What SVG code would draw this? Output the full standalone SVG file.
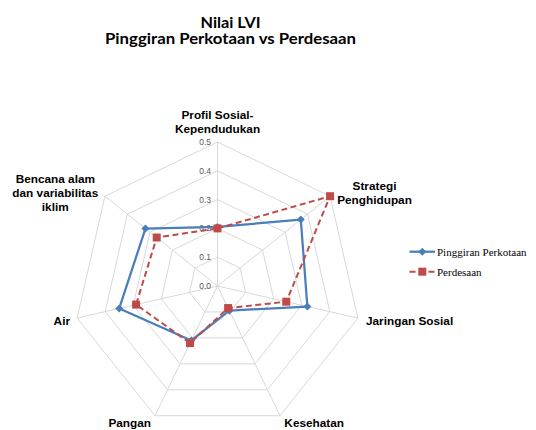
<svg xmlns="http://www.w3.org/2000/svg" width="536" height="430" viewBox="0 0 536 430">
<style>
.title{font-family:Lato,"Liberation Sans",sans-serif;font-weight:bold;font-size:14.5px;fill:#000;text-anchor:middle}
.lbl{font-family:"Liberation Sans",Arial,sans-serif;font-weight:bold;font-size:11.8px;fill:#000}
.tick{font-family:"Liberation Sans",Arial,sans-serif;font-size:8.5px;fill:#595959;text-anchor:end}
.leg{font-family:"Liberation Serif","Times New Roman",serif;font-size:11px;fill:#000}
.grid{fill:none;stroke:#d4d4d4;stroke-width:0.9}
.blue{fill:none;stroke:#4a7ebb;stroke-width:2.25;stroke-linejoin:round}
.red{fill:none;stroke:#be4b48;stroke-width:2;stroke-dasharray:6,3.5}
.dia{fill:#4a7ebb}
.sq{fill:#be4b48}
</style>
<defs>
<polygon id="d" points="0,-4 4,0 0,4 -4,0"/>
<rect id="s" x="-4" y="-4" width="8" height="8"/>
</defs>
<rect width="536" height="430" fill="#fff"/>
<g id="title">
<text class="title" x="230.5" y="27.5" textLength="60" lengthAdjust="spacingAndGlyphs">Nilai LVI</text>
<text class="title" x="230.5" y="44" textLength="251" lengthAdjust="spacingAndGlyphs">Pinggiran Perkotaan vs Perdesaan</text>
</g>
<g id="grid">
<polygon class="grid" points="217.5,257.2 240.02,268.04 245.58,292.41 230,311.95 205,311.95 189.42,292.41 194.98,268.04"/>
<polygon class="grid" points="217.5,228.4 262.53,250.09 273.66,298.82 242.49,337.9 192.51,337.9 161.34,298.82 172.47,250.09"/>
<polygon class="grid" points="217.5,199.6 285.05,232.13 301.73,305.23 254.99,363.84 180.01,363.84 133.27,305.23 149.95,232.13"/>
<polygon class="grid" points="217.5,170.8 307.57,214.17 329.81,311.63 267.48,389.79 167.52,389.79 105.19,311.63 127.43,214.17"/>
<polygon class="grid" points="217.5,142 330.08,196.22 357.89,318.04 279.98,415.74 155.02,415.74 77.11,318.04 104.92,196.22"/>
<path class="grid" d="M217.5,286V142M217.5,286L330.08,196.22M217.5,286L357.89,318.04M217.5,286L279.98,415.74M217.5,286L155.02,415.74M217.5,286L77.11,318.04M217.5,286L104.92,196.22"/>
</g>
<g id="ticks">
<text class="tick" x="211" y="289">0.0</text>
<text class="tick" x="211" y="260.2">0.1</text>
<text class="tick" x="211" y="231.4">0.2</text>
<text class="tick" x="211" y="202.6">0.3</text>
<text class="tick" x="211" y="173.8">0.4</text>
<text class="tick" x="211" y="145">0.5</text>
</g>
<g id="axis-labels">
<g id="n-profil"><text class="lbl" text-anchor="middle" x="217.5" y="119">Profil Sosial-</text><text class="lbl" text-anchor="middle" x="217.5" y="133">Kependudukan</text></g>
<g id="n-strategi"><text class="lbl" text-anchor="middle" x="374.5" y="190">Strategi</text><text class="lbl" text-anchor="middle" x="374.5" y="203.5">Penghidupan</text></g>
<g id="n-jaringan"><text class="lbl" x="366" y="324.5">Jaringan Sosial</text></g>
<g id="n-kesehatan"><text class="lbl" text-anchor="middle" x="314.2" y="426.5">Kesehatan</text></g>
<g id="n-pangan"><text class="lbl" text-anchor="middle" x="129.7" y="426.5">Pangan</text></g>
<g id="n-air"><text class="lbl" text-anchor="end" x="70" y="324.5">Air</text></g>
<g id="n-bencana"><text class="lbl" text-anchor="middle" x="55.3" y="183">Bencana alam</text><text class="lbl" text-anchor="middle" x="55.3" y="197">dan variabilitas</text><text class="lbl" text-anchor="middle" x="55.3" y="211">iklim</text></g>
</g>
<g id="connectors">
<polygon class="blue" points="217.5,226.96 300.81,219.56 307.35,306.51 229.37,310.65 191.26,340.49 119.23,308.43 145.45,228.54"/>
<polygon class="red" points="217.5,228.4 330.08,196.22 286.29,301.7 228.12,308.06 190.01,343.09 136.07,304.58 156.71,237.52"/>
</g>
<g id="markers-blue" class="dia">
<use href="#d" x="217.5" y="226.96"/><use href="#d" x="300.81" y="219.56"/><use href="#d" x="307.35" y="306.51"/><use href="#d" x="229.37" y="310.65"/><use href="#d" x="191.26" y="340.49"/><use href="#d" x="119.23" y="308.43"/><use href="#d" x="145.45" y="228.54"/>
</g>
<g id="markers-red" class="sq">
<use href="#s" x="217.5" y="228.4"/><use href="#s" x="330.08" y="196.22"/><use href="#s" x="286.29" y="301.7"/><use href="#s" x="228.12" y="308.06"/><use href="#s" x="190.01" y="343.09"/><use href="#s" x="136.07" y="304.58"/><use href="#s" x="156.71" y="237.52"/>
</g>
<g id="legend">
<line class="blue" x1="409.5" y1="251.7" x2="435" y2="251.7"/>
<use href="#d" class="dia" x="422.3" y="251.7"/>
<text class="leg" x="437" y="255.5">Pinggiran Perkotaan</text>
<line class="red" x1="409.5" y1="271.7" x2="435" y2="271.7" stroke-dasharray="4.5,3"/>
<use href="#s" class="sq" x="422.3" y="271.7"/>
<text class="leg" x="437" y="275.5">Perdesaan</text>
</g>
</svg>
